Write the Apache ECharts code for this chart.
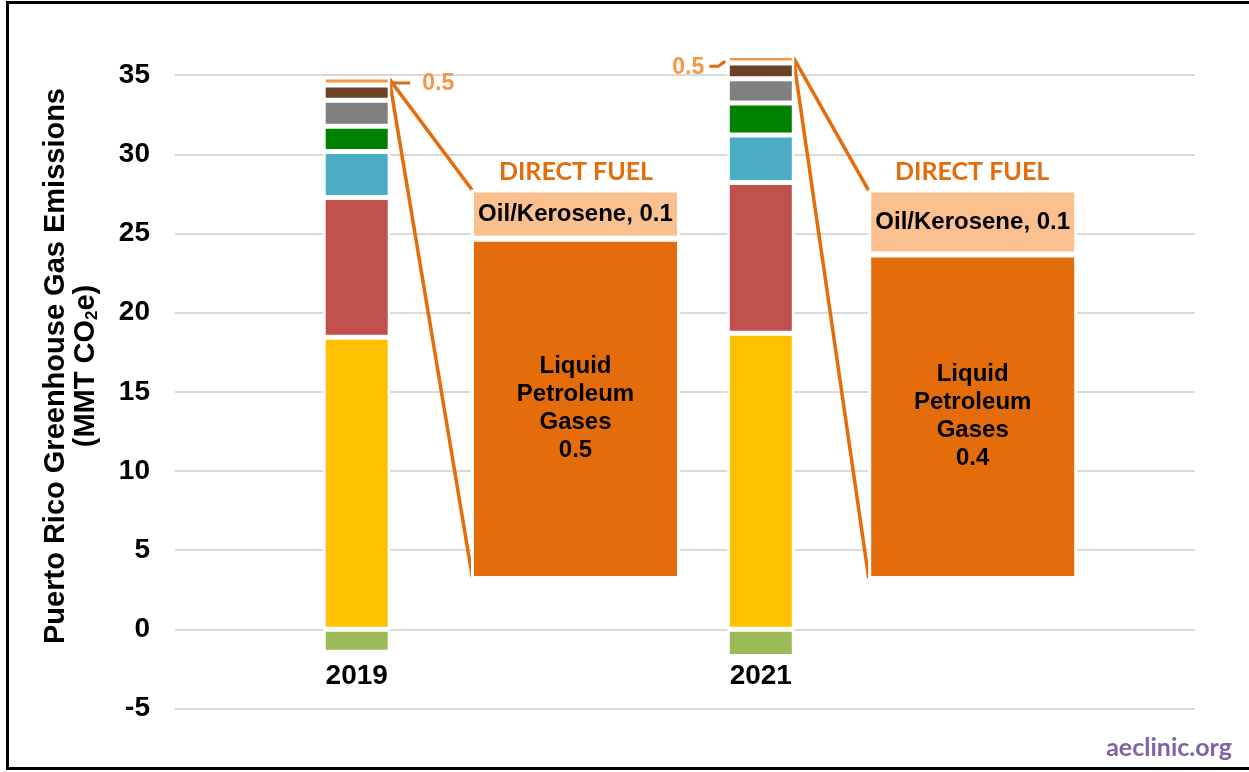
<!DOCTYPE html>
<html>
<head>
<meta charset="utf-8">
<script src="https://cdn.jsdelivr.net/npm/echarts@6/dist/echarts.min.js"></script>
<style>
  html, body { margin: 0; padding: 0; background: #ffffff; }
  #chart { width: 1249px; height: 772px; }
</style>
</head>
<body>
<div id="chart"></div>
<script>
// ---- data (MMT CO2e) ----
const years = ['2019', '2021'];
const electricity = [18.45, 18.71];
const transportation = [8.82, 9.52];
const industry = [2.91, 2.99];
const waste = [1.60, 2.03];
const agriculture = [1.64, 1.53];
const otherSources = [0.96, 0.99];
const directFuel = [0.515, 0.48];
const landSink = [-1.45, -1.71];
// direct fuel breakdown
const lpg = [0.45, 0.40];
const oilKerosene = [0.065, 0.08];

// ---- layout (not data) ----
const Y_MIN = -5, Y_MAX = 39.5;
const BAR_W = 67;
const BOX_W = 209;
const BOX_OFFSET = [0.5427, 0.5231];     // box centre offset from bar, in bar-band units
const BOX_BOTTOM = 3.18, BOX_TOP = 27.78; // callout box extent, in primary y units
const LABEL_SIDE = ['right', 'left'];
const S_MIN = (Y_MIN - BOX_BOTTOM) / (BOX_TOP - BOX_BOTTOM);
const S_MAX = (Y_MAX - BOX_BOTTOM) / (BOX_TOP - BOX_BOTTOM);
const GTOP = 4, GBOTTOM = 63.5;
const PX_PER_UNIT = (772 - GTOP - GBOTTOM) / (Y_MAX - Y_MIN);

const round1 = v => (Math.round(v * 10) / 10).toFixed(1);
const shares = arr => arr.map((v, i) => v / (lpg[i] + oilKerosene[i]));

const positiveStacks = [
  ['Electricity', electricity, '#FFC000'],
  ['Transportation', transportation, '#C0504D'],
  ['Industry', industry, '#4BACC6'],
  ['Waste', waste, '#008000'],
  ['Agriculture', agriculture, '#808080'],
  ['Other', otherSources, '#6B4226'],
  ['Direct Fuel', directFuel, '#F79646']
];

const series = [];
positiveStacks.forEach(([name, arr, color]) => {
  series.push({
    name, type: 'bar', stack: 'total', barWidth: BAR_W, z: 3,
    xAxisIndex: 0, yAxisIndex: 0,
    data: arr,
    itemStyle: { color, borderColor: '#ffffff', borderWidth: 2.5 }
  });
});
series.push({
  name: 'Land Sink', type: 'bar', stack: 'total', barWidth: BAR_W, z: 3,
  xAxisIndex: 0, yAxisIndex: 0,
  data: landSink,
  itemStyle: { color: '#9BBB59', borderColor: '#ffffff', borderWidth: 2.5 }
});

const boxLabel = { color: '#000000', fontFamily: 'Liberation Sans, Arial, sans-serif', fontWeight: 'bold', fontSize: 24 };
series.push({
  name: 'Liquid Petroleum Gases', type: 'bar', stack: 'box', barWidth: BOX_W, z: 3,
  xAxisIndex: 2, yAxisIndex: 2,
  data: shares(lpg),
  itemStyle: { color: '#E46C0A', borderColor: '#ffffff', borderWidth: 3 },
  label: Object.assign({ show: true, position: 'inside', lineHeight: 28, align: 'center',
    formatter: p => 'Liquid\nPetroleum\nGases\n' + round1(lpg[p.dataIndex]) }, boxLabel)
});
series.push({
  name: 'Oil/Kerosene', type: 'bar', stack: 'box', barWidth: BOX_W, z: 3,
  xAxisIndex: 2, yAxisIndex: 2,
  data: shares(oilKerosene),
  itemStyle: { color: '#FAC090', borderColor: '#ffffff', borderWidth: 3 },
  label: Object.assign({ show: true, position: 'inside',
    formatter: p => 'Oil/Kerosene, ' + round1(oilKerosene[p.dataIndex]) }, boxLabel)
});

// callout connectors, DIRECT FUEL heading and total direct-fuel label
const totals = years.map((y, i) => positiveStacks.reduce((s, st) => s + st[1][i], 0));
series.push({
  type: 'custom', z: 2, silent: true,
  xAxisIndex: 3, yAxisIndex: 0,
  data: years.map((y, i) => [i, totals[i], directFuel[i]]),
  renderItem: (params, api) => {
    const i = params.dataIndex;
    const x = api.value(0), top = api.value(1), df = api.value(2);
    const c = api.coord([x, top]);
    const right = c[0] + BAR_W / 2 - 1, left = c[0] - BAR_W / 2 + 1;
    const boxX = x + BOX_OFFSET[i];
    const tl = api.coord([boxX, BOX_TOP]);
    const bl = api.coord([boxX, BOX_BOTTOM]);
    const bx = tl[0] - BOX_W / 2 + 1;
    const mid = api.coord([x, top - df / 2]);
    const orange = '#E46C0A';
    const children = [
      { type: 'line', shape: { x1: right, y1: c[1] + 2, x2: bx, y2: tl[1] + 1 }, style: { stroke: orange, lineWidth: 3.5 } },
      { type: 'line', shape: { x1: right, y1: c[1] + 2, x2: bx, y2: bl[1] - 1 }, style: { stroke: orange, lineWidth: 3.5 } },
      { type: 'text', x: tl[0], y: tl[1] - 18,
        style: { text: 'DIRECT FUEL', fill: orange, font: 'bold 25px Lato, "Open Sans", sans-serif', align: 'center', verticalAlign: 'middle' } }
    ];
    const lbl = round1(df);
    if (LABEL_SIDE[i] === 'right') {
      children.push({ type: 'polyline', shape: { points: [[right + 3, mid[1] + 2], [right + 21, mid[1] + 2]] }, style: { stroke: orange, lineWidth: 3, fill: null } });
      children.push({ type: 'text', x: right + 33, y: mid[1] + 3,
        style: { text: lbl, fill: '#F79646', font: 'bold 23px "Liberation Sans", Arial, sans-serif', align: 'left', verticalAlign: 'middle' } });
    } else {
      children.push({ type: 'polyline', shape: { points: [[left - 3, mid[1] + 2], [left - 10, mid[1] + 7], [left - 19, mid[1] + 7]] }, style: { stroke: orange, lineWidth: 3, fill: null } });
      children.push({ type: 'text', x: left - 24, y: mid[1] + 8,
        style: { text: lbl, fill: '#F79646', font: 'bold 23px "Liberation Sans", Arial, sans-serif', align: 'right', verticalAlign: 'middle' } });
    }
    return { type: 'group', children };
  }
});

const axisFont = { color: '#000000', fontFamily: 'Liberation Sans, Arial, sans-serif', fontWeight: 'bold', fontSize: 28 };
const hiddenAxis = { show: false, splitLine: { show: false } };

const option = {
  animation: false,
  backgroundColor: '#ffffff',
  grid: [
    { left: 154.65, right: 286.15, top: GTOP, bottom: GBOTTOM },   // main bars
    { left: 175, right: 54, top: GTOP, bottom: GBOTTOM },          // gridlines + y labels
    { left: 376.9, right: 77.7, top: GTOP, bottom: GBOTTOM }       // callout boxes
  ],
  xAxis: [
    {
      type: 'category', gridIndex: 0, data: years,
      // category labels sit just under the zero line
      offset: -(0 - Y_MIN) * PX_PER_UNIT,
      axisLine: { show: false, onZero: false },
      axisTick: { show: false },
      splitLine: { show: false },
      axisLabel: Object.assign({ margin: 33 }, axisFont)
    },
    Object.assign({ type: 'value', gridIndex: 1, min: 0, max: 1 }, hiddenAxis),
    Object.assign({ type: 'category', gridIndex: 2, data: years }, hiddenAxis),
    Object.assign({ type: 'value', gridIndex: 0, min: -0.5, max: 1.5 }, hiddenAxis)
  ],
  yAxis: [
    Object.assign({ type: 'value', gridIndex: 0, min: Y_MIN, max: Y_MAX, axisLine: { onZero: false } }, hiddenAxis),
    {
      type: 'value', gridIndex: 1, min: Y_MIN, max: Y_MAX, interval: 5,
      axisLine: { show: false }, axisTick: { show: false },
      splitLine: { show: true, showMaxLine: false, lineStyle: { color: '#D9D9D9', width: 2 } },
      axisLabel: Object.assign({ margin: 25, showMaxLabel: false }, axisFont)
    },
    Object.assign({ type: 'value', gridIndex: 2, min: S_MIN, max: S_MAX }, hiddenAxis)
  ],
  graphic: [
    { type: 'rect', shape: { x: 7.5, y: 2.5, width: 1260, height: 766 }, style: { fill: null, stroke: '#000000', lineWidth: 3 }, silent: true },
    { type: 'text', x: 71, y: 366, rotation: Math.PI / 2,
      style: {
        text: '{a|Puerto Rico Greenhouse Gas Emissions}\n{a|(MMT CO}{s|2}{a|e)}',
        align: 'center', verticalAlign: 'middle', fill: '#000000',
        rich: {
          a: { fontFamily: 'Liberation Sans, Arial, sans-serif', fontWeight: 'bold', fontSize: 29, lineHeight: 30, fill: '#000000' },
          s: { fontFamily: 'Liberation Sans, Arial, sans-serif', fontWeight: 'bold', fontSize: 17, lineHeight: 30, verticalAlign: 'bottom', fill: '#000000' }
        }
      } },
    { type: 'text', right: 17, top: 735,
      style: { text: 'aeclinic.org', fill: '#8064A2', font: 'bold 25px Lato, "Open Sans", sans-serif' } }
  ],
  series
};

const chart = echarts.init(document.getElementById('chart'), null, { renderer: 'canvas' });
chart.setOption(option);
</script>
</body>
</html>
